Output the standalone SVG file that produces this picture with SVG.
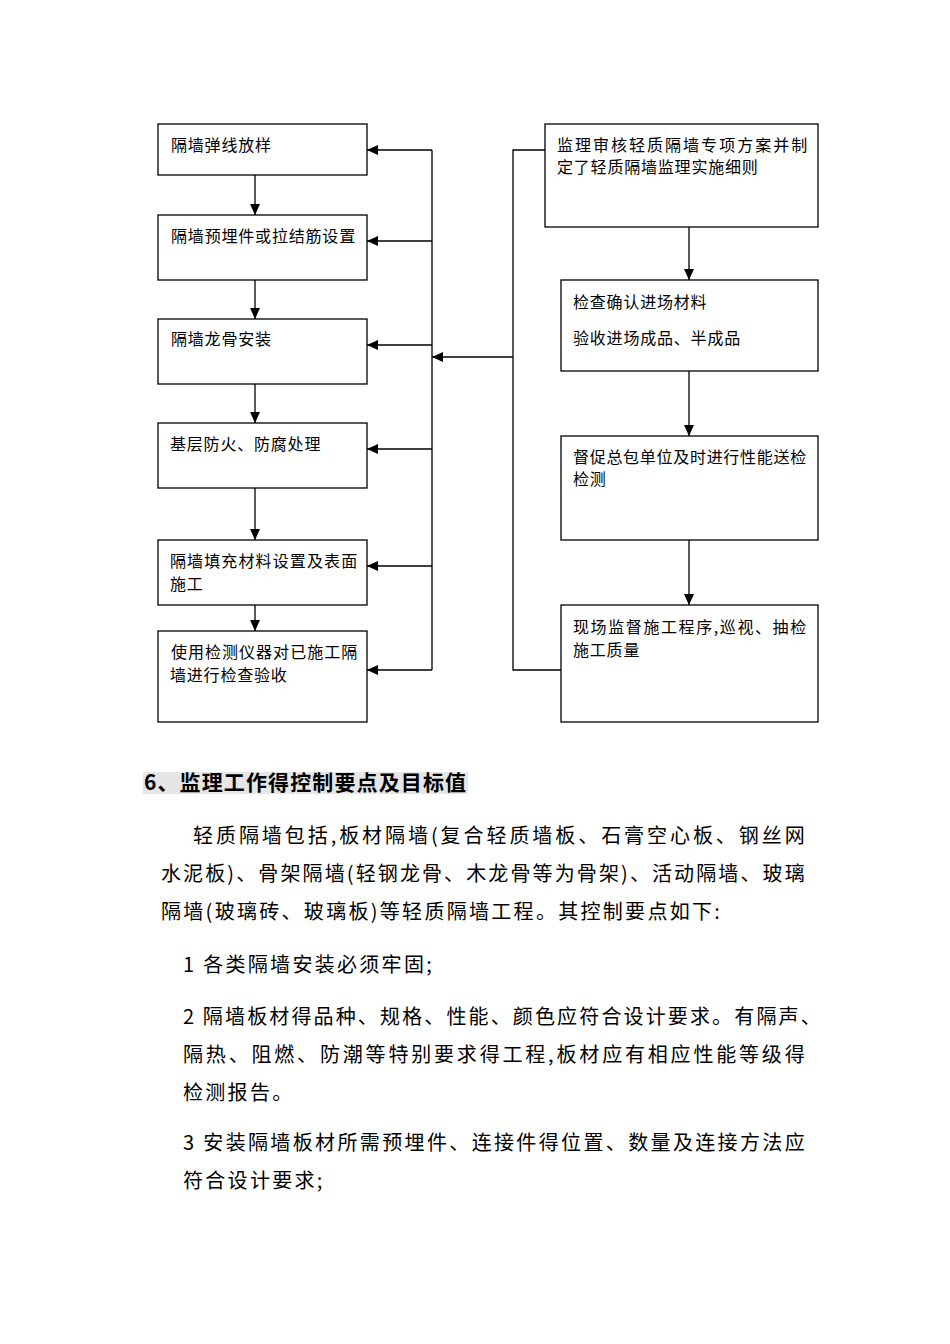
<svg xmlns="http://www.w3.org/2000/svg" width="950" height="1344" viewBox="0 0 950 1344">
<style>
.box{fill:#fff;stroke:#000;stroke-width:1.3}
.ln{fill:none;stroke:#000;stroke-width:1.3}
.bt{font-family:"Noto Sans CJK SC","Noto Sans",sans-serif;font-size:16px;letter-spacing:0.8px;fill:#000}
.body{font-family:"Noto Sans CJK SC","Noto Sans",sans-serif;font-size:20px;letter-spacing:2.3px;fill:#000}
.hd{font-family:"Noto Sans CJK SC","Noto Sans",sans-serif;font-size:21px;font-weight:bold;fill:#000}
</style>
<defs>
<marker id="ah" markerUnits="userSpaceOnUse" markerWidth="12" markerHeight="10" refX="11" refY="5" orient="auto">
<path d="M0,0 L11,5 L0,10 Z" fill="#000"/>
</marker>
</defs>
<rect width="950" height="1344" fill="#fff"/>

<g id="connectors">
<line class="ln" x1="255" y1="175" x2="255" y2="215" marker-end="url(#ah)"/>
<line class="ln" x1="255" y1="280" x2="255" y2="319" marker-end="url(#ah)"/>
<line class="ln" x1="255" y1="384" x2="255" y2="423" marker-end="url(#ah)"/>
<line class="ln" x1="255" y1="488" x2="255" y2="540" marker-end="url(#ah)"/>
<line class="ln" x1="255" y1="605" x2="255" y2="631" marker-end="url(#ah)"/>
<line class="ln" x1="689" y1="227" x2="689" y2="280" marker-end="url(#ah)"/>
<line class="ln" x1="689" y1="371" x2="689" y2="436" marker-end="url(#ah)"/>
<line class="ln" x1="689" y1="540" x2="689" y2="605" marker-end="url(#ah)"/>
<line class="ln" x1="432" y1="150" x2="432" y2="670"/>
<line class="ln" x1="432" y1="150" x2="367" y2="150" marker-end="url(#ah)"/>
<line class="ln" x1="432" y1="241" x2="367" y2="241" marker-end="url(#ah)"/>
<line class="ln" x1="432" y1="345" x2="367" y2="345" marker-end="url(#ah)"/>
<line class="ln" x1="432" y1="449" x2="367" y2="449" marker-end="url(#ah)"/>
<line class="ln" x1="432" y1="566" x2="367" y2="566" marker-end="url(#ah)"/>
<line class="ln" x1="432" y1="670" x2="367" y2="670" marker-end="url(#ah)"/>
<polyline class="ln" points="545,150 513,150 513,670 561,670"/>
<line class="ln" x1="513" y1="357" x2="432" y2="357" marker-end="url(#ah)"/>
</g>

<g id="n1"><rect class="box" x="158" y="124" width="209" height="51"/><text class="bt" x="171" y="151">隔墙弹线放样</text></g>
<g id="n2"><rect class="box" x="158" y="215" width="209" height="65"/><text class="bt" x="171" y="242" textLength="185" lengthAdjust="spacing">隔墙预埋件或拉结筋设置</text></g>
<g id="n3"><rect class="box" x="158" y="319" width="209" height="65"/><text class="bt" x="171" y="345">隔墙龙骨安装</text></g>
<g id="n4"><rect class="box" x="158" y="423" width="209" height="65"/><text class="bt" x="170" y="450">基层防火、防腐处理</text></g>
<g id="n5"><rect class="box" x="158" y="540" width="209" height="65"/><text class="bt" x="170" y="567" textLength="188" lengthAdjust="spacing">隔墙填充材料设置及表面</text><text class="bt" x="170" y="590">施工</text></g>
<g id="n6"><rect class="box" x="158" y="631" width="209" height="91"/><text class="bt" x="171" y="658" textLength="187" lengthAdjust="spacing">使用检测仪器对已施工隔</text><text class="bt" x="170" y="681">墙进行检查验收</text></g>

<g id="r1"><rect class="box" x="545" y="124" width="273" height="103"/><text class="bt" x="557" y="151" textLength="251" lengthAdjust="spacing">监理审核轻质隔墙专项方案并制</text><text class="bt" x="557" y="173">定了轻质隔墙监理实施细则</text></g>
<g id="r2"><rect class="box" x="561" y="280" width="257" height="91"/><text class="bt" x="573" y="308">检查确认进场材料</text><text class="bt" x="573" y="344">验收进场成品、半成品</text></g>
<g id="r3"><rect class="box" x="561" y="436" width="257" height="104"/><text class="bt" x="573" y="463" textLength="234" lengthAdjust="spacing">督促总包单位及时进行性能送检</text><text class="bt" x="573" y="485">检测</text></g>
<g id="r4"><rect class="box" x="561" y="605" width="257" height="117"/><text class="bt" x="573" y="633" textLength="234" lengthAdjust="spacing">现场监督施工程序,巡视、抽检</text><text class="bt" x="573" y="656">施工质量</text></g>

<g id="text">
<rect x="143" y="772" width="325" height="22" fill="#e6e6e6"/>
<text class="hd" x="144" y="790" textLength="322" lengthAdjust="spacing">6、监理工作得控制要点及目标值</text>
<text class="body" x="193" y="843" textLength="614" lengthAdjust="spacing">轻质隔墙包括,板材隔墙(复合轻质墙板、石膏空心板、钢丝网</text>
<text class="body" x="161" y="881" textLength="646" lengthAdjust="spacing">水泥板)、骨架隔墙(轻钢龙骨、木龙骨等为骨架)、活动隔墙、玻璃</text>
<text class="body" x="161" y="919">隔墙(玻璃砖、玻璃板)等轻质隔墙工程。其控制要点如下:</text>
<text class="body" x="183" y="972">1 各类隔墙安装必须牢固;</text>
<text class="body" x="183" y="1024" textLength="640" lengthAdjust="spacing">2 隔墙板材得品种、规格、性能、颜色应符合设计要求。有隔声、</text>
<text class="body" x="183" y="1062" textLength="624" lengthAdjust="spacing">隔热、阻燃、防潮等特别要求得工程,板材应有相应性能等级得</text>
<text class="body" x="183" y="1100">检测报告。</text>
<text class="body" x="183" y="1150" textLength="624" lengthAdjust="spacing">3 安装隔墙板材所需预埋件、连接件得位置、数量及连接方法应</text>
<text class="body" x="183" y="1188">符合设计要求;</text>
</g>
</svg>
